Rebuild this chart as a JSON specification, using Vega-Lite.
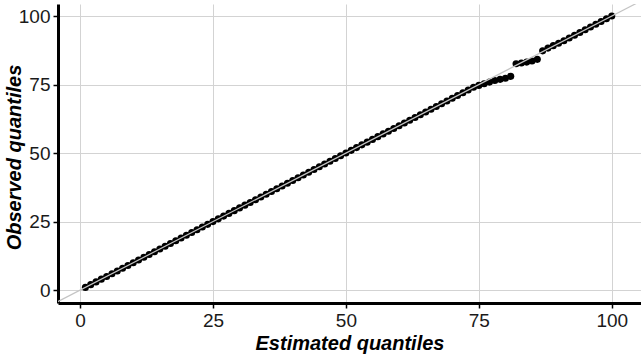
{
  "$schema": "https://vega.github.io/schema/vega-lite/v6.json",
  "width": 583,
  "height": 299,
  "autosize": {"type": "none"},
  "padding": {"left": 58, "top": 4, "right": 0, "bottom": 51},
  "background": "white",
  "config": {
    "view": {"stroke": null},
    "axis": {
      "labelFont": "Liberation Sans",
      "titleFont": "Liberation Sans",
      "labelFontSize": 19,
      "titleFontSize": 20,
      "titleFontWeight": "bold",
      "titleFontStyle": "italic",
      "labelColor": "#1a1a1a",
      "titleColor": "#000000",
      "domainColor": "#000000",
      "domainWidth": 3,
      "tickColor": "#000000",
      "tickWidth": 1.5,
      "tickSize": 5,
      "gridColor": "#d3d3d3",
      "gridWidth": 1
    }
  },
  "datasets": {
    "pts": [
      {"est": 1, "obs": 1}, {"est": 2, "obs": 2}, {"est": 3, "obs": 3}, {"est": 4, "obs": 4}, {"est": 5, "obs": 5},
      {"est": 6, "obs": 6}, {"est": 7, "obs": 7}, {"est": 8, "obs": 8}, {"est": 9, "obs": 9}, {"est": 10, "obs": 10},
      {"est": 11, "obs": 11}, {"est": 12, "obs": 12}, {"est": 13, "obs": 13}, {"est": 14, "obs": 14}, {"est": 15, "obs": 15},
      {"est": 16, "obs": 16}, {"est": 17, "obs": 17}, {"est": 18, "obs": 18}, {"est": 19, "obs": 19}, {"est": 20, "obs": 20},
      {"est": 21, "obs": 21}, {"est": 22, "obs": 22}, {"est": 23, "obs": 23}, {"est": 24, "obs": 24}, {"est": 25, "obs": 25},
      {"est": 26, "obs": 26}, {"est": 27, "obs": 27}, {"est": 28, "obs": 28}, {"est": 29, "obs": 29}, {"est": 30, "obs": 30},
      {"est": 31, "obs": 31}, {"est": 32, "obs": 32}, {"est": 33, "obs": 33}, {"est": 34, "obs": 34}, {"est": 35, "obs": 35},
      {"est": 36, "obs": 36}, {"est": 37, "obs": 37}, {"est": 38, "obs": 38}, {"est": 39, "obs": 39}, {"est": 40, "obs": 40},
      {"est": 41, "obs": 41}, {"est": 42, "obs": 42}, {"est": 43, "obs": 43}, {"est": 44, "obs": 44}, {"est": 45, "obs": 45},
      {"est": 46, "obs": 46}, {"est": 47, "obs": 47}, {"est": 48, "obs": 48}, {"est": 49, "obs": 49}, {"est": 50, "obs": 50},
      {"est": 51, "obs": 51}, {"est": 52, "obs": 52}, {"est": 53, "obs": 53}, {"est": 54, "obs": 54}, {"est": 55, "obs": 55},
      {"est": 56, "obs": 56}, {"est": 57, "obs": 57}, {"est": 58, "obs": 58}, {"est": 59, "obs": 59}, {"est": 60, "obs": 60},
      {"est": 61, "obs": 61}, {"est": 62, "obs": 62}, {"est": 63, "obs": 63}, {"est": 64, "obs": 64}, {"est": 65, "obs": 65},
      {"est": 66, "obs": 66}, {"est": 67, "obs": 67}, {"est": 68, "obs": 68}, {"est": 69, "obs": 69}, {"est": 70, "obs": 70},
      {"est": 71, "obs": 71}, {"est": 72, "obs": 72}, {"est": 73, "obs": 73}, {"est": 74, "obs": 74}, {"est": 75, "obs": 74.7},
      {"est": 76, "obs": 75.3}, {"est": 77, "obs": 75.9}, {"est": 78, "obs": 76.5}, {"est": 79, "obs": 76.9}, {"est": 80, "obs": 77.3},
      {"est": 81, "obs": 78.0}, {"est": 82, "obs": 82.6}, {"est": 83, "obs": 82.9}, {"est": 84, "obs": 83.2}, {"est": 85, "obs": 83.6},
      {"est": 86, "obs": 84.2}, {"est": 87, "obs": 87.3}, {"est": 88, "obs": 88.3}, {"est": 89, "obs": 89.2}, {"est": 90, "obs": 90.1},
      {"est": 91, "obs": 91}, {"est": 92, "obs": 92}, {"est": 93, "obs": 93}, {"est": 94, "obs": 94}, {"est": 95, "obs": 95},
      {"est": 96, "obs": 96}, {"est": 97, "obs": 97}, {"est": 98, "obs": 98}, {"est": 99, "obs": 99}, {"est": 100, "obs": 100}
    ],
    "diag": [{"x": -10, "y": -10, "x2": 110, "y2": 110}]
  },
  "layer": [
    {
      "data": {"name": "pts"},
      "mark": {"type": "point", "filled": true, "color": "#000000", "opacity": 1, "size": 50},
      "encoding": {
        "x": {
          "field": "est", "type": "quantitative",
          "scale": {"domain": [-4.15, 105.5], "nice": false, "zero": false},
          "axis": {"title": "Estimated quantiles", "values": [0, 25, 50, 75, 100], "labelPadding": 3, "titlePadding": 3}
        },
        "y": {
          "field": "obs", "type": "quantitative",
          "scale": {"domain": [-4.7, 104.4], "nice": false, "zero": false},
          "axis": {"title": "Observed quantiles", "values": [0, 25, 50, 75, 100], "labelPadding": 3, "titleX": -34, "titleY": 153}
        }
      }
    },
    {
      "data": {"name": "diag"},
      "mark": {"type": "rule", "color": "#c4c4c4", "strokeWidth": 1.2, "clip": true},
      "encoding": {
        "x": {"field": "x", "type": "quantitative"},
        "y": {"field": "y", "type": "quantitative"},
        "x2": {"field": "x2"},
        "y2": {"field": "y2"}
      }
    }
  ]
}
